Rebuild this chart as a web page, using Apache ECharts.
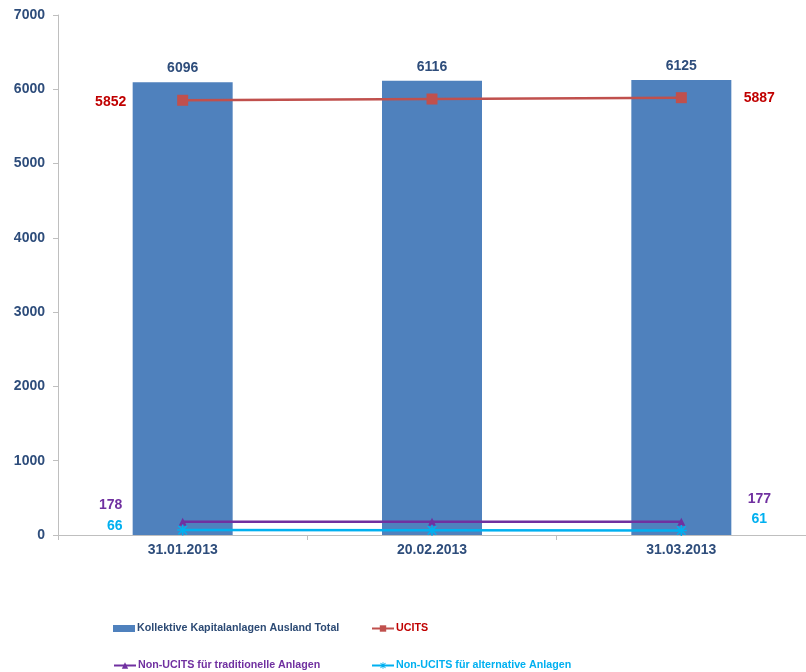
<!DOCTYPE html>
<html><head><meta charset="utf-8">
<script src="https://cdn.jsdelivr.net/npm/echarts@6/dist/echarts.min.js"></script>
<style>html,body{margin:0;padding:0;background:#fff}#c{width:806px;height:672px}</style>
</head><body><div id="c"></div>
<script>
const categories = ['31.01.2013', '20.02.2013', '31.03.2013'];
const totalValues = [6096, 6116, 6125];
const ucitsValues = [5852, 5869, 5887];
const tradValues = [178, 178, 177];
const altValues = [66, 63, 61];
const yTicks = [0, 7000, 1000];

const FONT = '"Liberation Sans", Arial, sans-serif';
const AX = '#2E4D7B';
const C_BAR = '#4F81BD', C_RED = '#C0504D', C_RED_T = '#C00000', C_PUR = '#7030A0', C_CYAN = '#00B0F0';

// label offsets for first/last points (style only)
const endLabelOffsets = {
  ucits: [[-72, 2], [78, 0]],
  trad: [[-72, -17], [78, -23]],
  alt: [[-68, -4], [78, -11]]
};

function withEndLabels(vals, color, offs) {
  return vals.map((v, i) => {
    const last = vals.length - 1;
    if (i !== 0 && i !== last) return v;
    return {
      value: v,
      label: {
        show: true, position: 'inside', offset: i === 0 ? offs[0] : offs[1],
        color: color, fontFamily: FONT, fontWeight: 'bold', fontSize: 14,
        formatter: '{c}'
      }
    };
  });
}

const asterisk = 'path://M4.3,0 L5.7,0 L5.7,10 L4.3,10 Z M0.6,1.6 L1.6,0.6 L9.4,8.4 L8.4,9.4 Z M8.4,0.6 L9.4,1.6 L1.6,9.4 L0.6,8.4 Z M0,4.3 L10,4.3 L10,5.7 L0,5.7 Z';

const legendText = (c) => ({ color: c, fontFamily: FONT, fontWeight: 'bold', fontSize: 10.7, padding: [0, 0, 0, -3] });

const chart = echarts.init(document.getElementById('c'), null, { renderer: 'canvas' });
chart.setOption({
  animation: false,
  grid: { left: 58, right: 0, top: 15, bottom: 137 },
  legend: [
    { data: [{ name: 'Kollektive Kapitalanlagen Ausland Total', icon: 'rect' }], left: 108, top: 618, itemWidth: 22, itemHeight: 7, textStyle: legendText('#2C4A74'), selectedMode: false },
    { data: ['UCITS'], left: 366, top: 618, itemWidth: 22, itemHeight: 8, textStyle: legendText(C_RED_T), selectedMode: false },
    { data: ['Non-UCITS für traditionelle Anlagen'], left: 108, top: 655, itemWidth: 22, itemHeight: 8, textStyle: legendText(C_PUR), selectedMode: false },
    { data: ['Non-UCITS für alternative Anlagen'], left: 366, top: 655, itemWidth: 22, itemHeight: 8, textStyle: legendText(C_CYAN), selectedMode: false }
  ],
  xAxis: {
    type: 'category', data: categories,
    axisLine: { lineStyle: { color: '#BFBFBF', width: 1 } },
    axisTick: { show: true, length: 5, lineStyle: { color: '#BFBFBF' } },
    axisLabel: { color: AX, fontFamily: FONT, fontWeight: 'bold', fontSize: 14, margin: 8 }
  },
  yAxis: {
    type: 'value', min: yTicks[0], max: yTicks[1], interval: yTicks[2],
    splitLine: { show: false },
    axisLine: { show: true, lineStyle: { color: '#BFBFBF', width: 1 } },
    axisTick: { show: true, length: 5, lineStyle: { color: '#BFBFBF' } },
    axisLabel: { color: AX, fontFamily: FONT, fontWeight: 'bold', fontSize: 14, margin: 13, formatter: (v) => String(v) }
  },
  series: [
    {
      name: 'Kollektive Kapitalanlagen Ausland Total', type: 'bar', data: totalValues,
      barWidth: 100, itemStyle: { color: C_BAR },
      label: { show: true, position: 'top', distance: 7, color: AX, fontFamily: FONT, fontWeight: 'bold', fontSize: 14 }
    },
    {
      name: 'UCITS', type: 'line', data: withEndLabels(ucitsValues, C_RED_T, endLabelOffsets.ucits),
      symbol: 'rect', symbolSize: 11, itemStyle: { color: C_RED }, lineStyle: { color: C_RED, width: 2.5 }
    },
    {
      name: 'Non-UCITS für traditionelle Anlagen', type: 'line', data: withEndLabels(tradValues, C_PUR, endLabelOffsets.trad),
      symbol: 'triangle', symbolSize: 8, itemStyle: { color: C_PUR }, lineStyle: { color: C_PUR, width: 2.5 }
    },
    {
      name: 'Non-UCITS für alternative Anlagen', type: 'line', data: withEndLabels(altValues, C_CYAN, endLabelOffsets.alt),
      symbol: asterisk, symbolSize: 11, itemStyle: { color: C_CYAN }, lineStyle: { color: C_CYAN, width: 2.5 }
    }
  ]
});
</script></body></html>
